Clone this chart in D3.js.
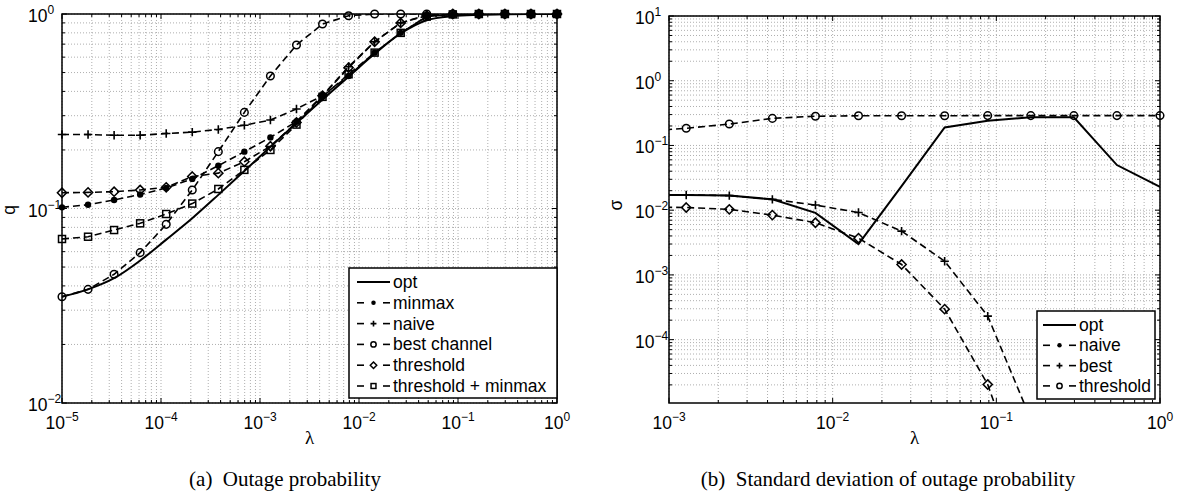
<!DOCTYPE html>
<html>
<head>
<meta charset="utf-8">
<script src="https://cdn.jsdelivr.net/npm/d3@7"></script>
<style>
    body { margin: 0; background: #fff; }
    svg { display: block; }
    .ticklabel, .legend text, .axlabel { font-family: "Liberation Sans", Arial, Helvetica, sans-serif; font-size: 17.5px; fill: #000; }
    .caption { font-family: "Liberation Serif", "Times New Roman", serif; font-size: 21px; fill: #000; }
    .greek { font-family: "Liberation Serif", "Times New Roman", serif; font-size: 19px; fill: #000; }
</style>
</head>
<body>
<script>
// lambda values shared by both panels (panel b uses the last 13)
var lambdaA = [1e-5, 1.833e-5, 3.360e-5, 6.158e-5, 1.129e-4, 2.069e-4, 3.793e-4, 6.952e-4,
    1.274e-3, 2.336e-3, 4.281e-3, 7.848e-3, 1.438e-2, 2.637e-2, 4.833e-2, 8.859e-2,
    0.1624, 0.2976, 0.5456, 1];
var lambdaB = [6.952e-4, 1.274e-3, 2.336e-3, 4.281e-3, 7.848e-3, 1.438e-2, 2.637e-2,
    4.833e-2, 8.859e-2, 0.1624, 0.2976, 0.5456, 1];

// (a) outage probability q
var qOpt = [0.0352, 0.0384, 0.0438, 0.0540, 0.0692, 0.0891, 0.1175, 0.156, 0.2075, 0.275,
    0.363, 0.476, 0.624, 0.794, 0.929, 0.975, 0.990, 0.997, 1, 1];
var qMinmax = [0.1014, 0.1046, 0.1106, 0.118, 0.1274, 0.142, 0.166, 0.196, 0.232, 0.280,
    0.380, 0.480, 0.633, 0.800, 0.970, 0.995, 1, 1, 1, 1];
var qNaive = [0.240, 0.240, 0.238, 0.238, 0.243, 0.247, 0.255, 0.268, 0.285, 0.325,
    0.380, 0.536, 0.720, 0.900, 0.990, 1, 1, 1, 1, 1];
var qBest = [0.0352, 0.0384, 0.0459, 0.0593, 0.0829, 0.1245, 0.196, 0.312, 0.480, 0.693,
    0.888, 0.980, 1, 1, 1, 1, 1, 1, 1, 1];
var qThreshold = [0.1205, 0.121, 0.122, 0.1245, 0.1285, 0.146, 0.152, 0.174, 0.209, 0.277,
    0.380, 0.530, 0.720, 0.900, 0.980, 1, 1, 1, 1, 1];
var qThrMinmax = [0.0697, 0.0716, 0.0775, 0.0839, 0.0937, 0.106, 0.126, 0.158, 0.200, 0.270,
    0.375, 0.490, 0.633, 0.800, 0.970, 0.995, 1, 1, 1, 1];

// (b) standard deviation sigma
var sdOpt = [0.0171, 0.0172, 0.0168, 0.0147, 0.0091, 0.0030, 0.0235, 0.190, 0.241, 0.272,
    0.272, 0.0498, 0.0230];
var sdNaive = [0.0112, 0.0110, 0.0103, 0.0084, 0.0064, 0.0037, 0.00145, 0.000296, 2.03e-5,
    2.7e-7, null, null, null];
var sdBest = [0.0172, 0.0172, 0.0168, 0.0147, 0.0120, 0.0092, 0.00475, 0.00163, 0.000231,
    5.9e-6, null, null, null];
var sdThreshold = [0.165, 0.184, 0.214, 0.262, 0.283, 0.287, 0.288, 0.288, 0.289, 0.289,
    0.289, 0.289, 0.289];

// Legend entries
var legendA = ["opt", "minmax", "naive", "best channel", "threshold", "threshold + minmax"];
var legendAMarkers = [null, "dot", "plus", "circle", "diamond", "square"];
var legendB = ["opt", "naive", "best", "threshold"];
var legendBMarkers = [null, "dot", "plus", "circle"];

var captions = ["(a)\u2002Outage probability", "(b)\u2002Standard deviation of outage probability"];

window.onload = function(){

    var w = 1178, h = 497;

    var svg = d3.select("body")
        .append("svg")
        .attr("width", w)
        .attr("height", h)
        .style("background-color", "#fff");

    // Panel boxes
    var boxA = {left: 62, right: 557, top: 14, bottom: 403};
    var boxB = {left: 669, right: 1160, top: 16, bottom: 403};

    var xA = d3.scaleLog().domain([1e-5, 1]).range([boxA.left, boxA.right]);
    var yA = d3.scaleLog().domain([1e-2, 1]).range([boxA.bottom, boxA.top]);
    var xB = d3.scaleLog().domain([1e-3, 1]).range([boxB.left, boxB.right]);
    var yB = d3.scaleLog().domain([1.05e-5, 10]).range([boxB.bottom, boxB.top]);

    var dash = "7,4";

    function isMajor(t){
        var l = Math.log10(t);
        return Math.abs(l - Math.round(l)) < 1e-6;
    }

    // Draws one marker symbol
    function marker(g, type, cx, cy, s){
        s = s || 1;
        if (type == "circle") {
            g.append("circle").attr("cx", cx).attr("cy", cy).attr("r", 3.8 * s)
                .style("fill", "none").style("stroke", "#000").style("stroke-width", 1.5);
        } else if (type == "dot") {
            g.append("circle").attr("cx", cx).attr("cy", cy).attr("r", 3.2 * s)
                .style("fill", "#000");
        } else if (type == "plus") {
            var p = 4.2 * s;
            g.append("path")
                .attr("d", "M" + (cx - p) + "," + cy + "H" + (cx + p) + "M" + cx + "," + (cy - p) + "V" + (cy + p))
                .style("stroke", "#000").style("stroke-width", 1.6);
        } else if (type == "diamond") {
            var d = 4.6 * s;
            g.append("path")
                .attr("d", "M" + cx + "," + (cy - d) + "L" + (cx + d) + "," + cy + "L" + cx + "," + (cy + d) + "L" + (cx - d) + "," + cy + "Z")
                .style("fill", "none").style("stroke", "#000").style("stroke-width", 1.5);
        } else if (type == "square") {
            var q = 3.5 * s;
            g.append("rect").attr("x", cx - q).attr("y", cy - q).attr("width", 2 * q).attr("height", 2 * q)
                .style("fill", "none").style("stroke", "#000").style("stroke-width", 1.5);
        }
    }

    // Tick label "10^k"
    function powerLabel(g, t, x, y, anchor){
        var e = Math.round(Math.log10(t));
        var txt = g.append("text")
            .attr("class", "ticklabel")
            .attr("x", x)
            .attr("y", y)
            .attr("text-anchor", anchor);
        txt.append("tspan").text("10");
        txt.append("tspan")
            .attr("dy", -8)
            .style("font-size", "12px")
            .text(e < 0 ? "\u2212" + (-e) : String(e));
    }

    // Clip region and dotted grid for one panel
    function drawFrame(box, x, y, id){
        var g = svg.append("g").attr("class", "frame-" + id);

        svg.append("clipPath").attr("id", "clip-" + id)
            .append("rect")
            .attr("x", box.left).attr("y", box.top)
            .attr("width", box.right - box.left).attr("height", box.bottom - box.top);

        var xt = x.ticks(), yt = y.ticks();

        // Dotted grid on every decade and sub-decade
        g.selectAll(".gx").data(xt).enter().append("line")
            .attr("x1", function(d){ return x(d); }).attr("x2", function(d){ return x(d); })
            .attr("y1", box.top).attr("y2", box.bottom)
            .style("stroke", "#9a9a9a").style("stroke-width", 0.8).style("stroke-dasharray", "1,2");
        g.selectAll(".gy").data(yt).enter().append("line")
            .attr("y1", function(d){ return y(d); }).attr("y2", function(d){ return y(d); })
            .attr("x1", box.left).attr("x2", box.right)
            .style("stroke", "#9a9a9a").style("stroke-width", 0.8).style("stroke-dasharray", "1,2");
        return g;
    }

    function drawTicks(box, x, y, id){
        var g = svg.append("g").attr("class", "ticks-" + id);
        var xt = x.ticks(), yt = y.ticks();

        // Inward ticks on all four sides
        xt.forEach(function(t){
            var len = isMajor(t) ? 5 : 3;
            g.append("line").attr("x1", x(t)).attr("x2", x(t))
                .attr("y1", box.bottom).attr("y2", box.bottom - len)
                .style("stroke", "#000").style("stroke-width", 1);
            g.append("line").attr("x1", x(t)).attr("x2", x(t))
                .attr("y1", box.top).attr("y2", box.top + len)
                .style("stroke", "#000").style("stroke-width", 1);
            if (isMajor(t)) powerLabel(g, t, x(t), box.bottom + 26, "middle");
        });
        yt.forEach(function(t){
            var len = isMajor(t) ? 5 : 3;
            g.append("line").attr("y1", y(t)).attr("y2", y(t))
                .attr("x1", box.left).attr("x2", box.left + len)
                .style("stroke", "#000").style("stroke-width", 1);
            g.append("line").attr("y1", y(t)).attr("y2", y(t))
                .attr("x1", box.right).attr("x2", box.right - len)
                .style("stroke", "#000").style("stroke-width", 1);
            if (isMajor(t)) powerLabel(g, t, box.left - 34, y(t) + 8, "start");
        });

        // Axes box
        g.append("rect")
            .attr("x", box.left).attr("y", box.top)
            .attr("width", box.right - box.left).attr("height", box.bottom - box.top)
            .style("fill", "none").style("stroke", "#000").style("stroke-width", 1.5);
    }

    // Lines and markers of one series
    function drawSeries(xs, vals, x, y, id, type, dashed, smooth){
        var g = svg.append("g").attr("class", "series");
        var pts = xs.map(function(d, i){ return {x: d, v: vals[i]}; });
        var line = d3.line()
            .defined(function(d){ return d.v != null; })
            .x(function(d){ return x(d.x); })
            .y(function(d){ return y(d.v); });
        if (smooth) line.curve(d3.curveMonotoneX);

        g.append("path")
            .datum(pts)
            .attr("d", line)
            .attr("clip-path", "url(#clip-" + id + ")")
            .style("fill", "none")
            .style("stroke", "#000")
            .style("stroke-width", dashed ? 1.6 : 2)
            .style("stroke-dasharray", dashed ? dash : null);

        if (!type) return;
        var xd = x.domain(), yd = y.domain();
        pts.forEach(function(d){
            if (d.v == null) return;
            if (d.x < xd[0] * 0.999 || d.x > xd[1] * 1.001) return;
            if (d.v < yd[0] || d.v > yd[1] * 1.001) return;
            marker(g, type, x(d.x), y(d.v));
        });
    }

    function drawLegend(x0, y0, wBox, hBox, names, markers, rowY, step, lineX0, lineX1){
        var g = svg.append("g").attr("class", "legend");
        g.append("rect")
            .attr("x", x0).attr("y", y0).attr("width", wBox).attr("height", hBox)
            .style("fill", "#fff").style("stroke", "#000").style("stroke-width", 1.5);
        names.forEach(function(n, i){
            var cy = rowY + i * step;
            if (markers[i] == null) {
                g.append("line").attr("x1", lineX0).attr("x2", lineX1).attr("y1", cy).attr("y2", cy)
                    .style("stroke", "#000").style("stroke-width", 2);
            } else {
                g.append("line").attr("x1", lineX0).attr("x2", lineX0 + 7).attr("y1", cy).attr("y2", cy)
                    .style("stroke", "#000").style("stroke-width", 1.6);
                g.append("line").attr("x1", lineX1 - 7).attr("x2", lineX1).attr("y1", cy).attr("y2", cy)
                    .style("stroke", "#000").style("stroke-width", 1.6);
                marker(g, markers[i], (lineX0 + lineX1) / 2, cy, 0.7);
            }
            g.append("text")
                .attr("x", lineX1 + 3)
                .attr("y", cy + 6)
                .text(n);
        });
    }

    // ---- Panel (a)
    drawFrame(boxA, xA, yA, "a");
    drawSeries(lambdaA, qOpt, xA, yA, "a", null, false, true);
    drawSeries(lambdaA, qMinmax, xA, yA, "a", "dot", true);
    drawSeries(lambdaA, qNaive, xA, yA, "a", "plus", true);
    drawSeries(lambdaA, qBest, xA, yA, "a", "circle", true);
    drawSeries(lambdaA, qThreshold, xA, yA, "a", "diamond", true);
    drawSeries(lambdaA, qThrMinmax, xA, yA, "a", "square", true);
    drawTicks(boxA, xA, yA, "a");
    drawLegend(349, 268, 208, 130, legendA, legendAMarkers, 282, 20.8, 357, 390);

    // ---- Panel (b)
    drawFrame(boxB, xB, yB, "b");
    drawSeries(lambdaB, sdOpt, xB, yB, "b", null, false, false);
    drawSeries(lambdaB, sdBest, xB, yB, "b", "plus", true);
    drawSeries(lambdaB, sdThreshold, xB, yB, "b", "circle", true);
    drawSeries(lambdaB, sdNaive, xB, yB, "b", "diamond", true);
    drawTicks(boxB, xB, yB, "b");
    drawLegend(1037, 311, 118, 88, legendB, legendBMarkers, 325, 20.3, 1043, 1076);

    // Axis labels
    svg.append("text").attr("class", "axlabel")
        .attr("transform", "translate(15,210) rotate(-90)")
        .attr("text-anchor", "middle")
        .text("q");
    svg.append("text").attr("class", "axlabel")
        .attr("transform", "translate(622,205) rotate(-90)")
        .attr("text-anchor", "middle")
        .text("\u03c3");
    svg.append("text").attr("class", "greek")
        .attr("x", (boxA.left + boxA.right) / 2).attr("y", 444)
        .attr("text-anchor", "middle")
        .text("\u03bb");
    svg.append("text").attr("class", "greek")
        .attr("x", (boxB.left + boxB.right) / 2).attr("y", 444)
        .attr("text-anchor", "middle")
        .text("\u03bb");

    // Sub-figure captions
    svg.append("text").attr("class", "caption")
        .attr("x", 285).attr("y", 486)
        .attr("text-anchor", "middle")
        .text(captions[0]);
    svg.append("text").attr("class", "caption")
        .attr("x", 888).attr("y", 486)
        .attr("text-anchor", "middle")
        .text(captions[1]);
};
</script>
</body>
</html>
